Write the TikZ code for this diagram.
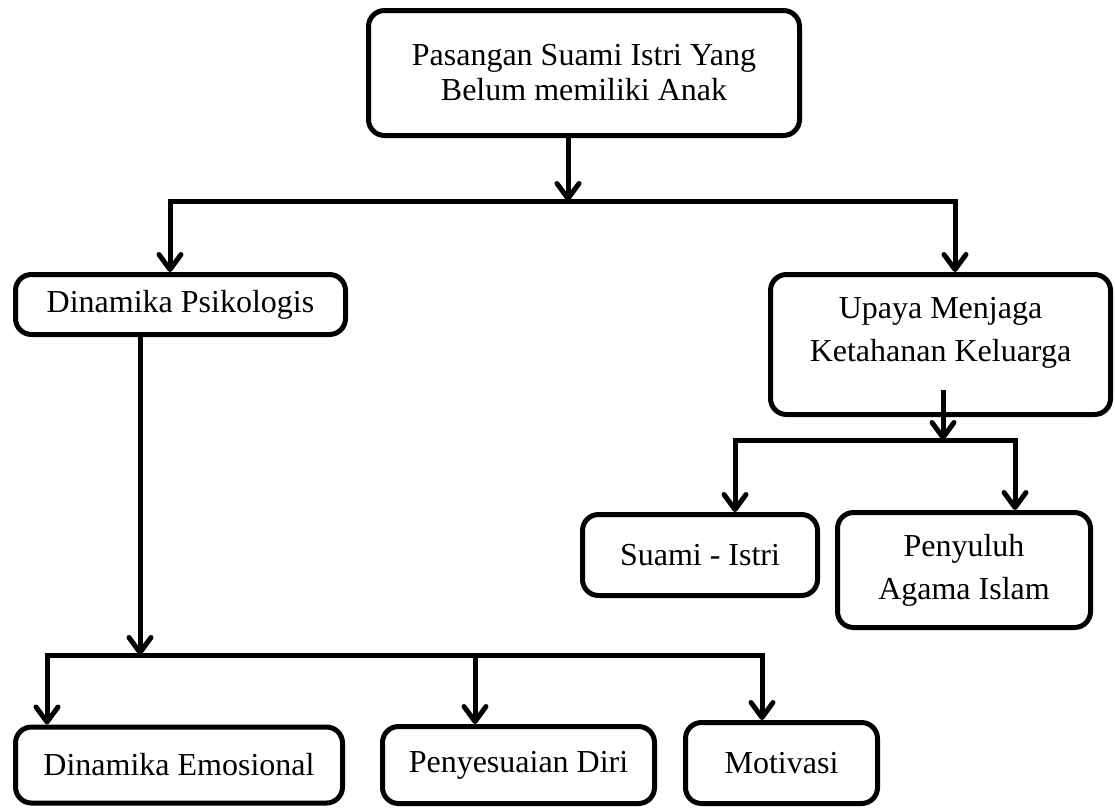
\documentclass[tikz,border=0pt]{standalone}
\usepackage{fontspec}
\setmainfont{Liberation Serif}
\usetikzlibrary{arrows.meta,calc}
\tikzset{
  box/.style={draw, line width=5pt, rounded corners=16pt, inner sep=0pt, align=center,
    font=\fontsize{32}{35}\selectfont},
  wide/.style={font=\fontsize{32}{43}\selectfont},
  conn/.style={line width=5pt},
  arr/.style={conn, -{Straight Barb[length=15pt,width=22pt,round]}},
}
\begin{document}
\begin{tikzpicture}[x=1pt,y=-1pt]
\useasboundingbox[fill=white] (0,0) rectangle (1115,809);

% boxes
\node[box, minimum width=431pt, minimum height=125pt] (top) at (584,73)
  {Pasangan Suami Istri Yang\\Belum memiliki Anak};
\node[box, minimum width=330pt, minimum height=60pt] (dp) at (180.5,304.5)
  {Dinamika Psikologis};
\node[box, wide, minimum width=340pt, minimum height=140pt, text depth=31pt] (up) at (940.5,344.5)
  {Upaya Menjaga\\Ketahanan Keluarga};
\node[box, minimum width=235pt, minimum height=81pt] (su) at (700,555)
  {Suami - Istri};
\node[box, wide, minimum width=253pt, minimum height=115pt] (pe) at (964,570)
  {Penyuluh\\Agama Islam};
\node[box, minimum width=327pt, minimum height=76pt] (de) at (179,765)
  {Dinamika Emosional};
\node[box, minimum width=272pt, minimum height=77pt] (pd) at (518.5,765)
  {Penyesuaian Diri};
\node[box, minimum width=192pt, minimum height=81pt] (mo) at (781.5,763)
  {Motivasi};

% junction coordinates
\coordinate (j1) at (568,201);
\coordinate (jl) at (170,201);
\coordinate (jr) at (955,201);
\coordinate (b1) at (140,655);
\coordinate (bl) at (47,655);
\coordinate (bm) at (475,655);
\coordinate (br) at (762,655);
\coordinate (u1) at (943,440);
\coordinate (ul) at (735,440);
\coordinate (ur) at (1015,440);

% top level
\draw[arr] (top.south -| j1) -- (j1);
\draw[arr] (jr) -- (jl) -- (jl |- dp.north);
\draw[arr] (jl) -- (jr) -- (jr |- up.north);

% left branch
\draw[arr] (dp.south -| b1) -- (b1);
\draw[arr] (br) -- (bl) -- (bl |- de.north);
\draw[arr] (bl) -- (br) -- (br |- mo.north);
\draw[arr] (bm) -- (bm |- pd.north);

% right branch
\draw[arr] ($(up.south -| u1)+(0,-27)$) -- (u1);
\draw[arr] (ur) -- (ul) -- (ul |- su.north);
\draw[arr] (ul) -- (ur) -- (ur |- pe.north);
\end{tikzpicture}
\end{document}
